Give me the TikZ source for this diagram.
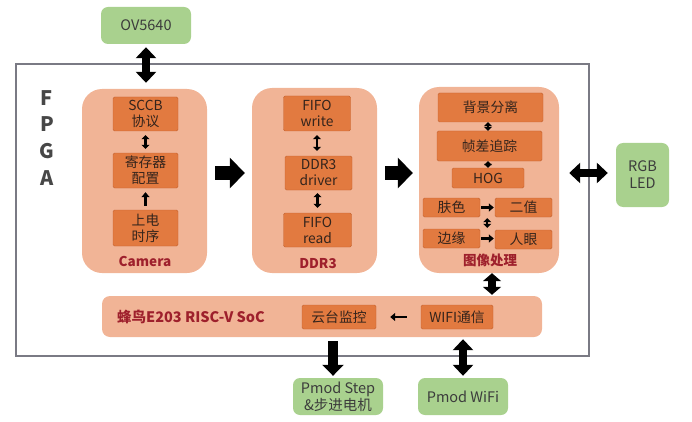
\documentclass[tikz,border=0pt]{standalone}
\usepackage{fontspec}
\setmainfont{Noto Sans CJK SC}
\usetikzlibrary{arrows.meta}
\definecolor{panelfill}{RGB}{241,180,150}
\definecolor{unitfill}{RGB}{226,122,64}
\definecolor{unitline}{RGB}{196,98,48}
\definecolor{unittext}{RGB}{52,36,28}
\definecolor{portfill}{RGB}{169,209,142}
\definecolor{porttext}{RGB}{60,60,60}
\definecolor{titlered}{RGB}{158,32,44}
\definecolor{framegray}{RGB}{122,122,132}

\begin{document}
\begin{tikzpicture}[x=1pt, y=-1pt,
        frame/.style={draw=framegray, line width=1.2pt, inner sep=0pt},
        panel/.style={fill=panelfill, rounded corners=20pt, inner sep=0pt},
        unit/.style={draw=unitline, fill=unitfill, rounded corners=1.5pt, inner sep=0pt, align=center,
                text=unittext, font=\fontsize{13.8}{16}\selectfont},
        port/.style={fill=portfill, rounded corners=7pt, inner sep=0pt, align=center,
                text=porttext, font=\fontsize{14.5}{17}\selectfont, minimum width=90pt, minimum height=37pt},
        title/.style={text=titlered, font=\bfseries\fontsize{13.5}{16}\selectfont, inner sep=0pt},
        letter/.style={text=black!72, font=\bfseries\fontsize{20}{22}\selectfont, inner sep=0pt},
        bigarrow/.style={line width=14pt, -{Triangle[length=15pt,width=30pt]}},
        duplex/.style={line width=8pt, {Triangle[length=11pt,width=20pt]}-{Triangle[length=11pt,width=20pt]}},
        shortduplex/.style={line width=8pt, {Triangle[length=8pt,width=18pt]}-{Triangle[length=8pt,width=18pt]}},
        busarrow/.style={line width=10pt, -{Triangle[length=11pt,width=21pt]}},
        tinyduplex/.style={line width=2.5pt, {Triangle[length=4pt,width=8pt]}-{Triangle[length=4pt,width=8pt]}},
        tinyarrow/.style={line width=2.5pt, -{Triangle[length=5pt,width=8pt]}}]
        \useasboundingbox (0,0) rectangle (692,422);

        % outer FPGA frame
        \node (fpga) [frame, minimum width=573pt, minimum height=292pt] at (302.5,210) {};
        \node (lf) [letter] at (47,98) {F};
        \node (lp) [letter] at (47,124) {P};
        \node (lg) [letter] at (47,151) {G};
        \node (la) [letter] at (47,178) {A};

        % camera block
        \node (cam) [panel, minimum width=125pt, minimum height=184pt] at (144.5,181) {};
        \node (sccb) [unit, minimum width=65pt, minimum height=34pt] at (145.5,114) {SCCB\\协议};
        \node (reg) [unit, minimum width=65pt, minimum height=35pt] at (145.5,170.5) {寄存器\\配置};
        \node (pwr) [unit, minimum width=65pt, minimum height=36pt] at (145.5,228) {上电\\时序};
        \node (camlbl) [title] at (145,261) {Camera};

        % DDR3 block
        \node (ddr) [panel, minimum width=125pt, minimum height=185pt] at (314.5,180.5) {};
        \node (fw) [unit, minimum width=67pt, minimum height=35pt] at (317,113.5) {FIFO\\write};
        \node (drv) [unit, minimum width=67pt, minimum height=34pt] at (318.5,173) {DDR3\\driver};
        \node (fr) [unit, minimum width=68pt, minimum height=34pt] at (317.5,230) {FIFO\\read};
        \node (ddrlbl) [title] at (318,264) {DDR3};

        % image processing block
        \node (img) [panel, minimum width=140pt, minimum height=186pt] at (489,180) {};
        \node (bg) [unit, minimum width=105pt, minimum height=29pt] at (490.5,107.5) {背景分离};
        \node (fd) [unit, minimum width=105pt, minimum height=30pt] at (489.5,146) {帧差追踪};
        \node (hog) [unit, minimum width=72pt, minimum height=20pt] at (488,178) {HOG};
        \node (skin) [unit, minimum width=57pt, minimum height=19pt] at (451.5,207.5) {肤色};
        \node (bin) [unit, minimum width=57pt, minimum height=19pt] at (523.5,207.5) {二值};
        \node (edg) [unit, minimum width=57pt, minimum height=19pt] at (451.5,238.5) {边缘};
        \node (eye) [unit, minimum width=57pt, minimum height=19pt] at (523.5,239.5) {人眼};
        \node (imglbl) [title] at (490,260) {图像处理};

        % SoC block
        \node (soc) [panel, rounded corners=8pt, minimum width=440pt, minimum height=41pt] at (322,316.5) {};
        \node (soclbl) [title, font=\bfseries\fontsize{14.5}{17}\selectfont] at (191,317) {蜂鸟E203 RISC-V SoC};
        \node (ptz) [unit, minimum width=74pt, minimum height=24pt] at (339,317) {云台监控};
        \node (wifi) [unit, minimum width=72pt, minimum height=24pt] at (457,317) {WIFI通信};

        % external modules
        \node (ov) [port] at (146,25.5) {OV5640};
        \node (rgb) [port, minimum width=53pt, minimum height=64pt] at (642.5,175) {RGB\\LED};
        \node (step) [port] at (338,396.5) {Pmod Step\\\&步进电机};
        \node (pwifi) [port] at (463,396.5) {Pmod WiFi};

        % connections
        \draw [duplex, shorten <=3pt, shorten >=6pt] (ov.south) -- (ov.south |- cam.north);
        \draw [bigarrow, shorten <=8pt, shorten >=7pt] (cam.east |- drv) -- (ddr.west |- drv);
        \draw [bigarrow, shorten <=8pt, shorten >=6pt] (ddr.east |- drv) -- (img.west |- drv);
        \draw [duplex, shorten <=10pt, shorten >=8pt] (img.east |- drv) -- (rgb.west |- drv);
        \draw [shortduplex, shorten <=0pt, shorten >=1pt] (img.south -| 492,0) -- (soc.north -| 492,0);
        \draw [duplex, shorten <=2pt, shorten >=2pt] (soc.south -| pwifi) -- (pwifi.north);
        \draw [busarrow, shorten <=4pt, shorten >=2pt] (soc.south -| 333,0) -- (step.north -| 333,0);
        \draw [tinyarrow, shorten <=14pt, shorten >=14pt] (wifi.west) -- (ptz.east);

        \draw [tinyduplex, shorten <=4pt, shorten >=4pt] (sccb) -- (reg);
        \draw [tinyarrow, shorten <=4pt, shorten >=4pt] (pwr) -- (reg);
        \draw [tinyduplex, shorten <=4pt, shorten >=5pt] (fw) -- (drv.north -| fw);
        \draw [tinyduplex, shorten <=3pt, shorten >=5pt] (drv.south -| fr) -- (fr);
        \draw [tinyduplex] (bg.south -| 488,0) -- (fd.north -| 488,0);
        \draw [tinyduplex] (fd.south -| 488,0) -- (hog.north -| 488,0);
        \draw [tinyarrow, shorten <=1pt, shorten >=1pt] (skin) -- (bin);
        \draw [tinyduplex, shorten <=1pt, shorten >=1pt] ([xshift=7pt]skin.south east) -- ([xshift=7pt]edg.north east);
        \draw [tinyarrow, shorten <=1pt, shorten >=1pt] (edg.east) -- (edg.east -| eye.west);
\end{tikzpicture}
\end{document}
